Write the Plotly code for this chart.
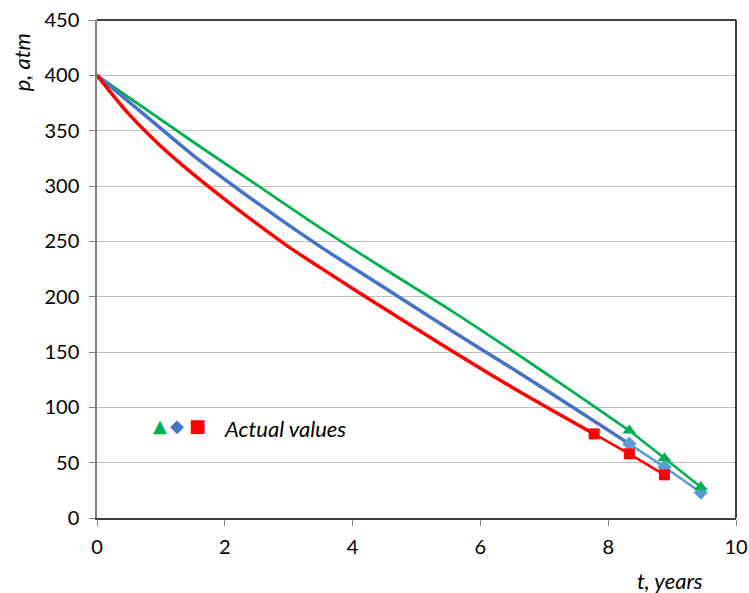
import plotly.graph_objects as go

# Model curves
t_green = [0, 1.5, 2.5, 3.5, 4.5, 5.5, 6.5, 7.5, 8.33]
p_green = [400, 340, 301, 262, 225, 189, 151, 112, 79]

t_blue = [0, 0.75, 1.5, 2.5, 3.5, 4.5, 5.5, 6.5, 7.5, 8.33]
p_blue = [400, 364, 328, 285, 245, 208, 171, 135, 98, 67]

t_red = [0, 0.5, 1.0, 1.5, 2.0, 2.5, 3.0, 3.5, 4.5, 5.5, 6.5, 7.78]
p_red = [400, 365, 336, 311, 288, 266, 245, 226, 189, 153, 118, 76]

# Actual values
t_act_green = [8.33, 8.88, 9.45]
p_act_green = [79, 54, 28]
t_act_blue = [8.33, 8.88, 9.45]
p_act_blue = [67, 46, 23]
t_act_red = [7.78, 8.33, 8.88]
p_act_red = [76, 58, 39]

x_ticks = [0, 2, 4, 6, 8, 10]
y_ticks = list(range(0, 451, 50))

GREEN = "#00B050"
BLUE = "#4472C4"
LBLUE = "#5B9BD5"
RED = "#FF0000"
FONT = "Lato"

fig = go.Figure()
fig.add_trace(go.Scatter(x=t_green, y=p_green, mode="lines",
                         line=dict(color=GREEN, width=2.8, shape="spline", smoothing=0.8)))
fig.add_trace(go.Scatter(x=t_blue, y=p_blue, mode="lines",
                         line=dict(color=BLUE, width=3.5, shape="spline", smoothing=0.8)))
fig.add_trace(go.Scatter(x=t_red, y=p_red, mode="lines",
                         line=dict(color=RED, width=3.5, shape="spline", smoothing=0.8)))

fig.add_trace(go.Scatter(x=t_act_blue, y=p_act_blue, mode="lines+markers",
                         line=dict(color=LBLUE, width=2.5),
                         marker=dict(symbol="diamond", size=11, color=LBLUE)))
fig.add_trace(go.Scatter(x=t_act_red, y=p_act_red, mode="lines+markers",
                         line=dict(color=RED, width=2.5),
                         marker=dict(symbol="square", size=11, color=RED)))
fig.add_trace(go.Scatter(x=t_act_green, y=p_act_green, mode="lines+markers",
                         line=dict(color=GREEN, width=2.5),
                         marker=dict(symbol="triangle-up", size=12, color=GREEN)))

# legend-like note
for xs, sym, col in [(0.99, "▲", GREEN), (1.25, "◆", BLUE), (1.58, "■", RED)]:
    fig.add_annotation(x=xs, y=84, xref="x", yref="y", xanchor="center", yanchor="middle",
                       showarrow=False, text=sym,
                       font=dict(family="DejaVu Sans", size=18, color=col))
fig.add_annotation(x=1.96, y=81, xref="x", yref="y", xanchor="left", yanchor="middle",
                   showarrow=False, text="<i>Actual values</i>",
                   font=dict(family=FONT, size=22, color="black"))

# axis titles
fig.add_annotation(x=0.951, y=-0.1245, xref="paper", yref="paper", xanchor="right", yanchor="middle",
                   showarrow=False, text="<i>t, years</i>",
                   font=dict(family=FONT, size=22, color="black"))
fig.add_annotation(x=-0.119, y=0.915, xref="paper", yref="paper", xanchor="center", yanchor="middle",
                   showarrow=False, text="<i>p, atm</i>", textangle=-90,
                   font=dict(family=FONT, size=22, color="black"))

# black frame on top and right of the plot area
fig.add_shape(type="line", xref="paper", yref="paper", x0=0, x1=1, y0=1, y1=1,
              line=dict(color="black", width=1.5))
fig.add_shape(type="line", xref="paper", yref="paper", x0=1, x1=1, y0=0, y1=1,
              line=dict(color="black", width=1.5))

fig.update_layout(
    width=749, height=593,
    margin=dict(l=97, r=13, t=20, b=75),
    paper_bgcolor="white", plot_bgcolor="white",
    showlegend=False,
    font=dict(family=FONT, size=20, color="black"),
)
fig.update_xaxes(range=[0, 10], tickvals=x_ticks, ticks="outside", ticklen=6,
                 tickcolor="#808080", showgrid=False, zeroline=False,
                 showline=True, linecolor="#404040", linewidth=1.5,
                 tickfont=dict(size=20), automargin=False, ticklabeloverflow="allow",
                 ticklabelstandoff=4)
fig.update_yaxes(range=[0, 450], tickvals=y_ticks, ticks="outside", ticklen=6,
                 tickcolor="#808080", showgrid=True, gridcolor="#BFBFBF", gridwidth=1,
                 zeroline=False, showline=True, linecolor="#808080", linewidth=1.5,
                 tickfont=dict(size=20), automargin=False, ticklabeloverflow="allow",
                 ticklabelstandoff=6)

# remove the default page margin so the figure fills the window exactly
fig.write_html("out.html", config={"displayModeBar": False},
               post_script="document.body.style.margin='0';document.body.style.overflow='hidden';")
